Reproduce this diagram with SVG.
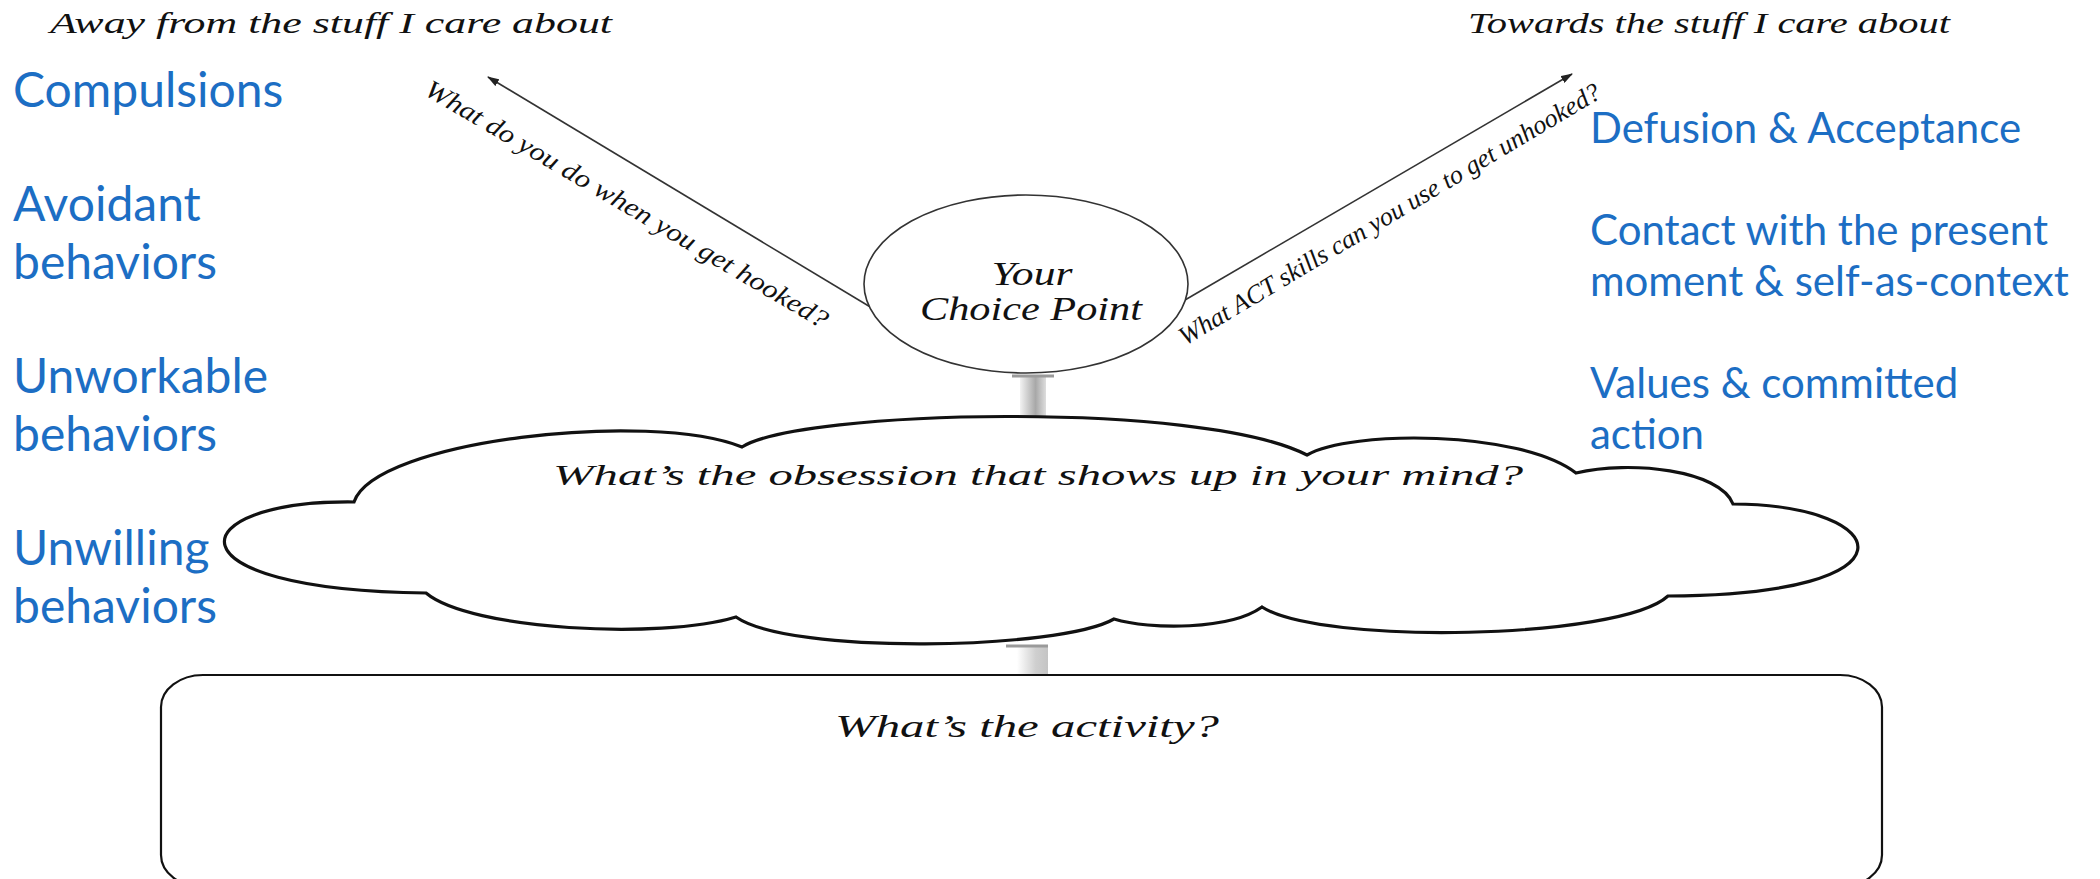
<svg xmlns="http://www.w3.org/2000/svg" width="2100" height="879" viewBox="0 0 2100 879">
  <style>
    .hand { font-family: "Liberation Serif", "DejaVu Serif", serif; font-style: italic; fill: #111; }
    .blueL { font-family: Lato, "Open Sans", "Liberation Sans", sans-serif; font-size: 48px; fill: #1C6EC4; }
    .blueR { font-family: Lato, "Open Sans", "Liberation Sans", sans-serif; font-size: 42px; fill: #1C6EC4; }
    .arrow { stroke: #333; stroke-width: 1.6; fill: none; }
  </style>
  <defs>
    <marker id="ah" markerWidth="12" markerHeight="8" refX="11" refY="4" orient="auto" markerUnits="userSpaceOnUse">
      <path d="M0,0 L12,4 L0,8 Z" fill="#222"/>
    </marker>
    <linearGradient id="stemTop" x1="0" y1="0" x2="1" y2="0">
      <stop offset="0" stop-color="#f2f2f2"/>
      <stop offset="0.6" stop-color="#a8a8a8"/>
      <stop offset="1" stop-color="#dedede"/>
    </linearGradient>
    <linearGradient id="stemBot" x1="0" y1="0" x2="1" y2="0">
      <stop offset="0" stop-color="#ffffff"/>
      <stop offset="0.6" stop-color="#cfcfcf"/>
      <stop offset="1" stop-color="#c4c4c4"/>
    </linearGradient>
  </defs>

  <rect width="2100" height="879" fill="#ffffff"/>

  <!-- Headings -->
  <text class="hand" x="50" y="33" font-size="29" textLength="562" lengthAdjust="spacingAndGlyphs">Away from the stuff I care about</text>
  <text class="hand" x="1468" y="33" font-size="29" textLength="482" lengthAdjust="spacingAndGlyphs">Towards the stuff I care about</text>

  <!-- Left list -->
  <g id="left-list">
    <text class="blueL" x="13" y="107">Compulsions</text>
    <text class="blueL" x="13" y="221">Avoidant</text>
    <text class="blueL" x="13" y="279">behaviors</text>
    <text class="blueL" x="13" y="393">Unworkable</text>
    <text class="blueL" x="13" y="451">behaviors</text>
    <text class="blueL" x="13" y="565">Unwilling</text>
    <text class="blueL" x="13" y="623">behaviors</text>
  </g>

  <!-- Right list -->
  <g id="right-list">
    <text class="blueR" x="1590" y="143">Defusion &amp; Acceptance</text>
    <text class="blueR" x="1590" y="245">Contact with the present</text>
    <text class="blueR" x="1590" y="296">moment &amp; self-as-context</text>
    <text class="blueR" x="1590" y="398">Values &amp; committed</text>
    <text class="blueR" x="1590" y="449">action</text>
  </g>

  <!-- Connectors -->
  <g id="connectors">
    <line class="arrow" x1="872" y1="308" x2="488" y2="77" marker-end="url(#ah)"/>
    <line class="arrow" x1="1185" y1="300" x2="1572" y2="74" marker-end="url(#ah)"/>
    <text class="hand" font-size="26" transform="translate(423,94) rotate(30.5)" textLength="463" lengthAdjust="spacingAndGlyphs">What do you do when you get hooked?</text>
    <text class="hand" font-size="26" transform="translate(1185,346) rotate(-30.8)" textLength="486" lengthAdjust="spacingAndGlyphs">What ACT skills can you use to get unhooked?</text>
    <!-- stems -->
    <rect x="1020" y="376" width="26" height="44" fill="url(#stemTop)"/>
    <rect x="1012" y="374.5" width="42" height="3" fill="#9a9a9a"/>
    <rect x="1017" y="646" width="31" height="29" fill="url(#stemBot)"/>
    <rect x="1006" y="644.5" width="42" height="3" fill="#9a9a9a"/>
  </g>

  <!-- Choice point -->
  <g id="choice-point">
    <ellipse cx="1026" cy="284" rx="162" ry="89" fill="#ffffff" stroke="#333" stroke-width="1.6"/>
    <text class="hand" x="1032" y="285" font-size="34" text-anchor="middle" textLength="81" lengthAdjust="spacingAndGlyphs">Your</text>
    <text class="hand" x="1031" y="320" font-size="34" text-anchor="middle" textLength="222" lengthAdjust="spacingAndGlyphs">Choice Point</text>
  </g>

  <!-- Cloud -->
  <g id="cloud">
    <path d="M354,502 C375,440 650,410 742,447 C800,410 1200,400 1307,455 C1350,430 1520,430 1576,473 C1630,460 1720,470 1733,504 C1895,505 1925,595 1668,596 C1620,640 1320,645 1262,607 C1230,630 1150,630 1114,619 C1060,650 790,655 736,617 C660,640 470,630 426,593 C160,590 180,500 354,502 Z" fill="#ffffff" stroke="#111" stroke-width="3.2"/>
    <text class="hand" x="553" y="485" font-size="29" textLength="970" lengthAdjust="spacingAndGlyphs">What’s the obsession that shows up in your mind?</text>
  </g>

  <!-- Activity box -->
  <g id="activity">
    <rect x="161" y="675" width="1721" height="212" rx="42" ry="32" fill="#ffffff" stroke="#111" stroke-width="2.2"/>
    <text class="hand" x="835" y="737" font-size="31" textLength="384" lengthAdjust="spacingAndGlyphs">What’s the activity?</text>
  </g>
</svg>
